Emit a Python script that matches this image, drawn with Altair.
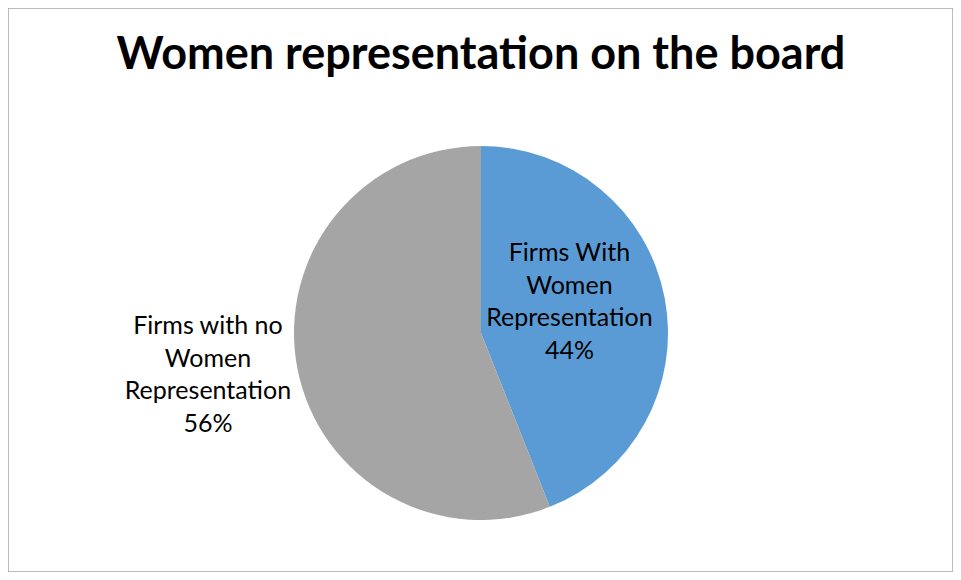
import altair as alt
import pandas as pd

title_text = "Women representation on the board"
categories = ["Firms With Women Representation", "Firms with no Women Representation"]
label_lines = [["Firms With", "Women", "Representation"], ["Firms with no", "Women", "Representation"]]
values = [44, 56]
colors = ["#5B9BD5", "#A5A5A5"]

df = pd.DataFrame({
    "category": categories,
    "value": values,
    "order": list(range(len(categories))),
    "label": ["\n".join(lines + [f"{v}%"]) for lines, v in zip(label_lines, values)],
})

W, H = 945, 564
CX, CY = 473, 325
FONT = "Lato"

pie = alt.Chart(df).mark_arc(radius=187).encode(
    theta=alt.Theta("value:Q", stack=True),
    order=alt.Order("order:Q"),
    x=alt.value(CX),
    y=alt.value(CY),
    color=alt.Color("category:N", scale=alt.Scale(domain=categories, range=colors), legend=None),
)

label_base = alt.Chart(df).transform_joinaggregate(
    total="sum(value)"
).transform_window(
    cum="sum(value)", sort=[alt.SortField("order")], frame=[None, 0]
).transform_calculate(
    frac="(datum.cum - datum.value / 2) / datum.total"
)


def label_layer(idx, r, dy):
    return label_base.transform_filter(alt.datum.order == idx).mark_text(
        font=FONT, fontSize=25, lineBreak="\n", lineHeight=32.5,
        align="center", baseline="middle", radius=r, dy=dy, color="#000000",
    ).encode(
        theta=alt.Theta("frac:Q", scale=alt.Scale(domain=[0, 1]), stack=None),
        text="label:N",
        x=alt.value(CX),
        y=alt.value(CY),
    )


labels_in = label_layer(0, 90, -63)
labels_out = label_layer(1, 278, -59)

title = alt.Chart(pd.DataFrame({"t": [title_text]})).mark_text(
    font=FONT, fontSize=45, fontWeight="bold", align="center", baseline="alphabetic", color="#000000"
).encode(text="t:N", x=alt.value(CX), y=alt.value(61))

chart = alt.layer(pie, labels_in, labels_out, title).resolve_scale(
    theta="independent"
).properties(
    width=W, height=H, padding=0, autosize=alt.AutoSizeParams(type="none")
).configure_view(stroke="#A6A6A6", strokeWidth=1.5)

chart.save("out.html", embed_options={"renderer": "svg", "actions": False})
